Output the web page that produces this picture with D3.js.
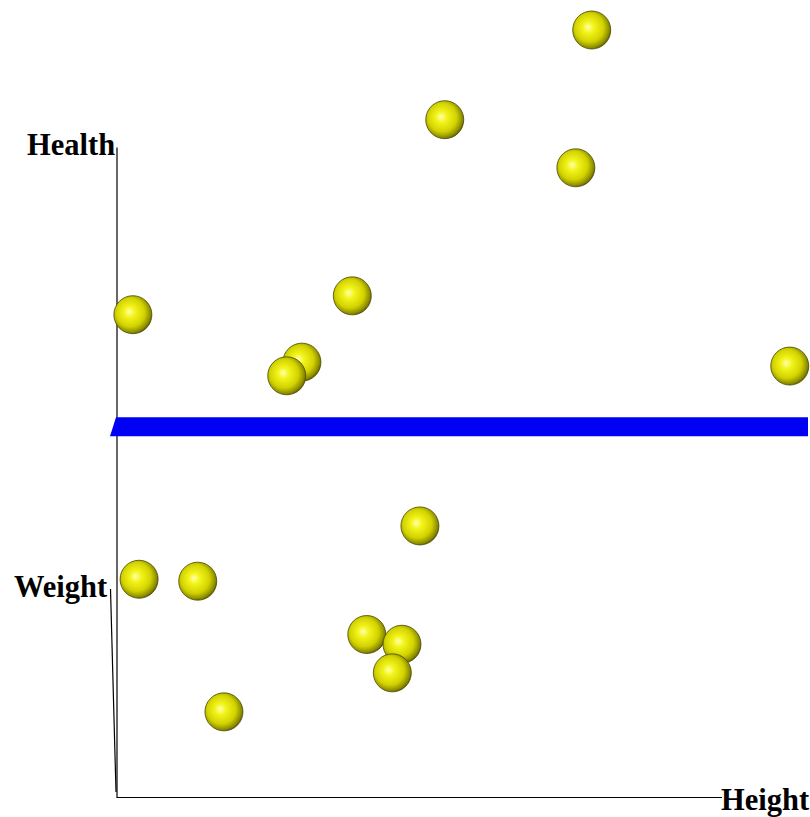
<!DOCTYPE html>
<html>
<head>
<meta charset="utf-8">
<script src="https://cdn.jsdelivr.net/npm/d3@7"></script>
<style>
  html, body { margin: 0; padding: 0; background: #fff; }
  svg { display: block; }
  .lbl { font-family: "Liberation Serif", "Times New Roman", serif; font-weight: bold; font-size: 30.5px; fill: #000; }
</style>
</head>
<body>
<svg id="chart" width="810" height="817"></svg>
<script>
// ---- data (projected Height / Health values) ----
const heightVals = [68.8, 47.5, 66.5, 34.1, 2.3, 26.8, 24.6, 97.5, 43.9, 3.2, 11.7, 36.2, 41.3, 39.9, 15.5];
const healthVals = [118.0, 104.2, 96.8, 77.1, 74.2, 66.9, 64.8, 66.3, 41.7, 33.5, 33.2, 25.0, 23.5, 19.1, 13.1];
const axisNames = ["Health", "Weight", "Height"];
const planeLevel = 56.9;

const svg = d3.select("#chart");

const x = d3.scaleLinear().domain([0, 100]).range([117, 807]);
const y = d3.scaleLinear().domain([0, 100]).range([797, 147]);

// gradient for spheres
const defs = svg.append("defs");
const grad = defs.append("radialGradient")
  .attr("id", "ball").attr("cx", "45%").attr("cy", "45%").attr("r", "58%")
  .attr("fx", "40%").attr("fy", "42%");
grad.append("stop").attr("offset", "0%").attr("stop-color", "#ffffb0");
grad.append("stop").attr("offset", "25%").attr("stop-color", "#f4f41c");
grad.append("stop").attr("offset", "65%").attr("stop-color", "#d2d200");
grad.append("stop").attr("offset", "90%").attr("stop-color", "#8a8a00");
grad.append("stop").attr("offset", "100%").attr("stop-color", "#505000");

// vertical (Health) axis
svg.append("g")
  .attr("transform", `translate(${x(0) - 0.5},0)`)
  .call(d3.axisLeft(y).ticks(0).tickSizeOuter(0))
  .call(g => g.select(".domain").attr("stroke", "#000").attr("stroke-width", 1.2));

// Height axis (bottom)
svg.append("line")
  .attr("x1", x(0) - 0.5).attr("x2", 722)
  .attr("y1", y(0) + 0.5).attr("y2", y(0) + 0.5)
  .attr("stroke", "#000").attr("stroke-width", 1.2);

// Weight axis (depth, slightly slanted)
svg.append("line")
  .attr("x1", 110.5).attr("y1", 589)
  .attr("x2", x(0) - 1).attr("y2", y(0) - 5)
  .attr("stroke", "#000").attr("stroke-width", 1.2);

// blue plane
const py = y(planeLevel);
svg.append("polygon")
  .attr("points", [
    [x(0) - 1, py - 10], [808, py - 10], [808, py + 9], [110, py + 9]
  ].map(p => p.join(",")).join(" "))
  .attr("fill", "#0000f4");

// spheres (draw upper ones first)
const pts = heightVals.map((h, i) => ({ h, v: healthVals[i] }))
  .sort((a, b) => b.v - a.v);
svg.selectAll("circle.ball").data(pts).enter().append("circle")
  .attr("class", "ball")
  .attr("cx", d => x(d.h)).attr("cy", d => y(d.v)).attr("r", 19)
  .attr("fill", "url(#ball)")
  .attr("stroke", "#4a4a00").attr("stroke-width", 0.8);

// labels
svg.append("text").attr("class", "lbl").attr("x", 27).attr("y", 155).text(axisNames[0]);
svg.append("text").attr("class", "lbl").attr("x", 14).attr("y", 597).text(axisNames[1]);
svg.append("text").attr("class", "lbl").attr("x", 721).attr("y", 810).text(axisNames[2]);
</script>
</body>
</html>
